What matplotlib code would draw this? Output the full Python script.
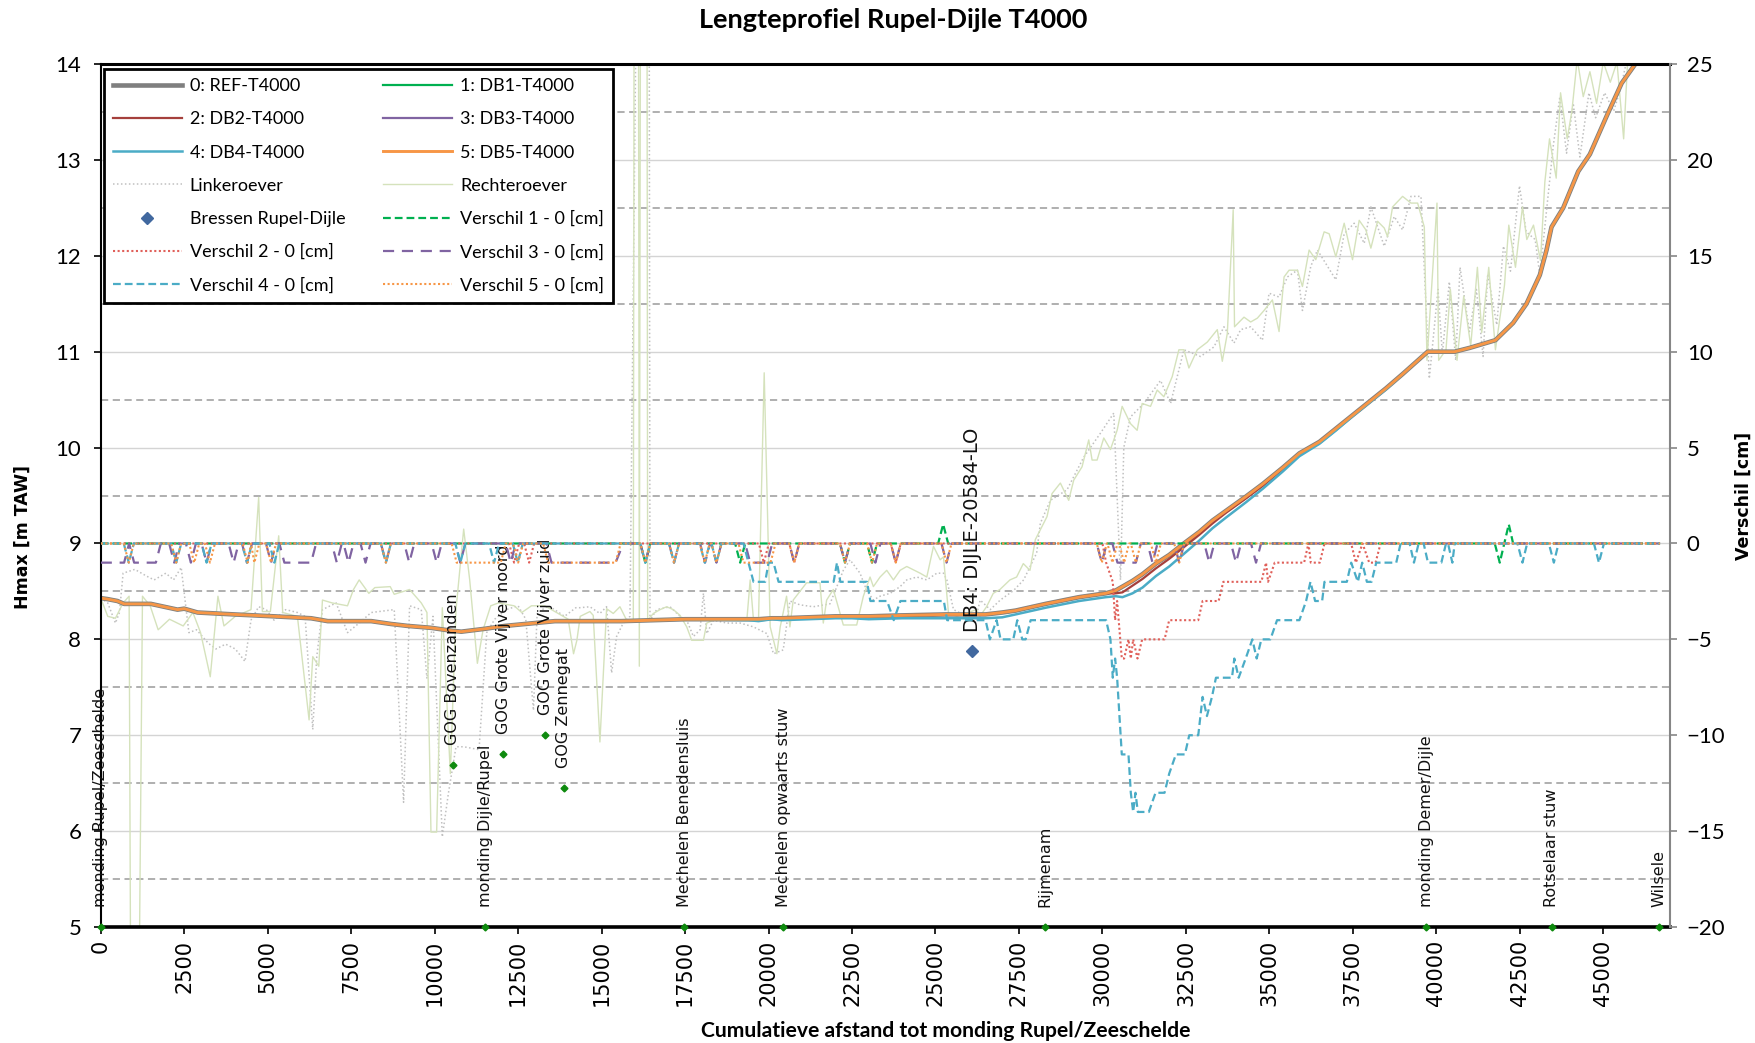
import numpy as np
import matplotlib
matplotlib.use('Agg')
import matplotlib.pyplot as plt

BASE = 'Lato'

# ---- lengteprofiel (m TAW) ----
x_prof = [0, 200, 500, 700, 1500, 2300, 2500, 2900, 4000, 5200, 6300, 6800, 8100, 8700,
          9200, 9900, 10500, 10800, 11500, 12100, 13000, 13600, 15600, 17500, 19400, 19700,
          20100, 20400, 22000, 22500, 23000, 24000, 25300, 26500, 27000, 27400, 28300, 29300,
          30100, 30400, 30600, 30900, 31200, 31600, 32000, 32400, 32900, 33300, 33700, 34300,
          34800, 35400, 35900, 36500, 37000, 37500, 38000, 38500, 39000, 39740, 40550, 41000,
          41770, 42300, 42700, 43100, 43300, 43450, 43800, 44250, 44600, 45130, 45550, 46000,
          46700]
h_ref = [8.43, 8.42, 8.40, 8.37, 8.37, 8.31, 8.32, 8.28, 8.26, 8.24, 8.22, 8.19, 8.19, 8.16,
         8.14, 8.12, 8.09, 8.08, 8.11, 8.14, 8.17, 8.19, 8.19, 8.21, 8.21, 8.21,
         8.22, 8.22, 8.24, 8.24, 8.24, 8.25, 8.26, 8.26, 8.28, 8.30, 8.37, 8.44,
         8.48, 8.51, 8.55, 8.61, 8.68, 8.79, 8.88, 8.99, 9.12, 9.24, 9.34, 9.49,
         9.62, 9.79, 9.94, 10.06, 10.20, 10.34, 10.48, 10.62, 10.77, 11.00, 11.00, 11.04,
         11.12, 11.30, 11.50, 11.80, 12.06, 12.30, 12.50, 12.88, 13.06, 13.48, 13.80, 14.02,
         14.50]
h_db2 = [8.43, 8.42, 8.40, 8.37, 8.37, 8.31, 8.32, 8.28, 8.26, 8.24, 8.22, 8.19, 8.19, 8.16,
         8.14, 8.12, 8.09, 8.08, 8.11, 8.14, 8.17, 8.19, 8.19, 8.21, 8.21, 8.21,
         8.22, 8.22, 8.24, 8.24, 8.24, 8.25, 8.26, 8.26, 8.28, 8.30, 8.37, 8.44,
         8.48, 8.48, 8.49, 8.56, 8.63, 8.74, 8.84, 8.95, 9.09, 9.21, 9.32, 9.47,
         9.60, 9.78, 9.93, 10.06, 10.20, 10.34, 10.48, 10.62, 10.77, 11.00, 11.00, 11.04,
         11.12, 11.30, 11.50, 11.80, 12.06, 12.30, 12.50, 12.88, 13.06, 13.48, 13.80, 14.02,
         14.50]
h_db4 = [8.43, 8.42, 8.40, 8.37, 8.37, 8.31, 8.32, 8.28, 8.26, 8.24, 8.22, 8.19, 8.19, 8.16,
         8.14, 8.12, 8.09, 8.08, 8.11, 8.14, 8.17, 8.19, 8.19, 8.21, 8.20, 8.19,
         8.21, 8.20, 8.22, 8.22, 8.21, 8.22, 8.22, 8.22, 8.23, 8.26, 8.33, 8.40,
         8.44, 8.45, 8.44, 8.48, 8.54, 8.66, 8.76, 8.88, 9.03, 9.16, 9.27, 9.43,
         9.57, 9.75, 9.91, 10.04, 10.18, 10.33, 10.47, 10.61, 10.77, 11.00, 11.00, 11.04,
         11.12, 11.30, 11.50, 11.80, 12.06, 12.30, 12.50, 12.88, 13.06, 13.48, 13.80, 14.02,
         14.50]

# ---- oevers ----
ro_x = [0, 210, 440, 670, 850, 900, 1140, 1250, 1480, 1720, 2060, 2470, 2760, 2990, 3280,
        3510, 3690, 4030, 4500, 4730, 4840, 5080, 5330, 5450, 5890, 6240, 6350, 6530, 6640,
        6930, 7390, 7570, 7740, 8030, 8210, 8670, 8790, 9250, 9600, 9770, 9890, 10060, 10230,
        10470, 10640, 10870, 11050, 11280, 11450, 11680, 11910, 12380, 12610, 12900, 13300,
        13650, 14000, 14160, 14260, 14360, 14650, 14750, 14950, 15150, 15350, 15550, 15750,
        15950, 16000, 16080, 16130, 16200, 16340, 16380, 16550, 16750, 16950, 17150, 17350,
        17550, 17700, 18050, 18150, 18350, 18950, 19350, 19450, 19550, 19700, 19870, 20050,
        20250, 20350, 20540, 20640, 20740, 21140, 21540, 21640, 21740, 21940, 22240, 22640,
        22840, 23040, 23140, 23340, 23540, 23740, 23940, 24140, 24540, 24740, 24940, 25140,
        25240, 25390, 25640, 26230, 26330, 26530, 26730, 26930, 27230, 27430, 27630, 27830,
        27990, 28340, 28490, 28740, 28990, 29140, 29390, 29590, 29690, 29840, 30040, 30240,
        30440, 30590, 30840, 31040, 31190, 31440, 31640, 31840, 32090, 32290, 32440, 32590,
        32840, 33140, 33440, 33590, 33740, 33916, 33956, 34240, 34440, 34640, 34840, 35090,
        35290, 35440, 35590, 35840, 35990, 36190, 36390, 36640, 36790, 36990, 37240, 37490,
        37690, 37890, 38040, 38240, 38440, 38540, 38690, 38990, 39240, 39440, 39640, 39720,
        40020, 40070, 40290, 40420, 40620, 40820, 41030, 41230, 41360, 41570, 41770, 42040,
        42170, 42370, 42580, 42710, 42910, 43120, 43250, 43390, 43590, 43720, 43920, 44060,
        44220, 44400, 44600, 44800, 45000, 45210, 45410, 45610, 45740, 46220, 46700]
ro_y = [8.43, 8.24, 8.22, 8.38, 8.45, 4.0, 4.0, 8.45, 8.35, 8.10, 8.21, 8.14, 8.28, 8.07, 7.61,
        8.45, 8.14, 8.24, 8.31, 9.48, 8.29, 8.29, 9.08, 8.28, 8.24, 7.16, 7.82, 7.72, 8.41,
        8.38, 8.35, 8.52, 8.62, 8.48, 8.54, 8.55, 8.47, 8.52, 8.38, 8.28, 5.99, 5.99, 8.33,
        6.60, 8.31, 9.15, 8.62, 7.75, 8.10, 8.35, 8.38, 8.35, 8.28, 8.35, 8.35,
        8.28, 8.21, 7.85, 7.99, 8.24, 8.29, 8.25, 6.93, 8.32, 8.27, 8.34, 8.20,
        8.20, 22.0, 22.0, 7.72, 22.0, 22.0, 8.20, 8.27, 8.31, 8.34, 8.31, 8.25,
        8.13, 7.99, 7.99, 8.17, 8.20, 8.20, 8.20, 8.62, 8.20, 8.20, 10.78, 8.13,
        7.85, 8.13, 8.45, 8.13, 8.41, 8.59, 8.59, 8.17, 8.41, 8.52, 8.15, 8.15,
        8.45, 8.65, 8.55, 8.65, 8.72, 8.62, 8.72, 8.76, 8.69, 8.65, 8.97, 8.83,
        8.86, 8.27, 8.24, 8.31, 8.24, 8.34, 8.48, 8.52, 8.62, 8.65, 8.79, 8.72,
        9.04, 9.28, 9.52, 9.63, 9.45, 9.66, 9.80, 10.08, 9.87, 9.87, 10.10, 9.98,
        10.18, 10.43, 10.25, 10.18, 10.46, 10.43, 10.60, 10.53, 10.74, 11.02, 11.02, 10.83,
        11.02, 11.10, 11.23, 10.90, 11.19, 12.48, 11.26, 11.36, 11.31, 11.35, 11.43, 11.54,
        11.21, 11.78, 11.85, 11.85, 11.68, 12.06, 11.96, 12.25, 12.23, 11.99, 12.34, 11.96,
        12.37, 12.27, 12.08, 12.36, 12.29, 12.20, 12.51, 12.62, 12.55, 12.55, 12.30, 10.91,
        12.55, 10.91, 11.02, 11.65, 10.91, 11.58, 11.06, 11.88, 11.20, 11.88, 11.02, 11.69,
        12.32, 11.88, 12.51, 12.17, 12.32, 11.95, 12.77, 13.22, 12.81, 13.70, 13.22, 13.51,
        14.05, 13.66, 13.92, 13.59, 14.02, 13.81, 14.02, 13.22, 14.10, 14.30, 14.50]

lo_x = [0, 210, 440, 560, 670, 1020, 1370, 1600, 1950, 2180, 2410, 2640, 2870, 3220, 3450,
        3740, 4030, 4320, 4500, 4730, 4960, 5190, 5540, 5890, 6120, 6350, 6470, 6640, 7050,
        7390, 7740, 8100, 8790, 9070, 9250, 9600, 9770, 9950, 10230, 10410, 10640, 10870,
        11330, 11560, 11800, 12140, 12500, 12730, 12960, 13070, 13420, 13890, 14230, 14350,
        14650, 14950, 15150, 15300, 15450, 15650, 15850, 16250, 16400, 16450, 16650, 17050,
        17350, 17550, 17750, 17950, 18050, 18150, 18350, 18750, 19150, 19550, 19950, 20150,
        20440, 20640, 20940, 21340, 21840, 22240, 22440, 22740, 22940, 23140, 23340, 23640,
        23940, 24140, 24440, 24740, 25040, 25240, 25340, 25540, 25940, 26240, 26340, 26640,
        26940, 27340, 27640, 28030, 28140, 28440, 28940, 29440, 29940, 30340, 30540, 30640,
        30840, 31240, 31740, 32040, 32440, 32940, 33340, 33640, 33940, 34140, 34440, 34790,
        34990, 35290, 35540, 35840, 35990, 36240, 36440, 36990, 37240, 37540, 37840, 38040,
        38440, 38740, 38990, 39240, 39540, 39790, 40050, 40180, 40390, 40580, 40710, 40990,
        41200, 41400, 41540, 41810, 42010, 42220, 42490, 42690, 42960, 43100, 43300, 43500,
        43700, 43900, 44100, 44300, 44570, 44770, 45040, 45310, 45510, 45710, 46700]
lo_y = [8.43, 8.38, 8.17, 8.28, 8.69, 8.73, 8.66, 8.62, 8.69, 8.62, 8.75, 8.07, 8.10, 7.96, 7.90,
        7.95, 7.90, 7.77, 8.20, 8.34, 8.31, 8.20, 8.31, 8.28, 8.24, 7.06, 7.82, 8.31, 8.38,
        8.07, 8.17, 8.28, 8.31, 6.30, 8.35, 8.31, 7.59, 8.24, 5.94, 6.39, 6.88, 6.88,
        6.85, 8.07, 8.21, 8.31, 8.35, 8.21, 7.26, 8.28, 8.35, 8.24, 8.33, 8.33,
        8.34, 8.27, 8.34, 7.65, 8.03, 8.17, 8.24, 22.0, 22.0, 8.20, 8.31, 8.34,
        8.24, 8.20, 8.03, 8.10, 8.48, 8.06, 8.20, 8.17, 8.17, 8.13, 8.06, 7.85,
        7.89, 8.40, 8.36, 8.34, 8.37, 8.72, 8.83, 8.69, 8.51, 8.41, 8.45, 8.48,
        8.55, 8.62, 8.65, 8.62, 8.69, 8.69, 8.62, 8.31, 8.24, 8.27, 8.41, 8.31,
        8.41, 8.51, 8.62, 8.90, 9.21, 9.45, 9.56, 9.90, 10.15, 10.36, 8.62, 10.00,
        10.32, 10.46, 10.70, 10.46, 11.02, 10.95, 11.05, 11.26, 11.09, 11.23, 11.26, 11.12,
        11.61, 11.57, 11.78, 11.85, 11.43, 11.89, 12.06, 11.75, 12.23, 12.34, 12.13, 12.51,
        12.10, 12.41, 12.27, 12.62, 12.62, 10.72, 11.65, 10.98, 11.73, 10.91, 11.88, 11.21,
        11.65, 10.95, 11.81, 11.28, 12.10, 11.84, 12.73, 12.25, 12.17, 11.80, 12.47, 13.14,
        13.66, 13.07, 13.59, 13.03, 13.70, 13.44, 13.70, 13.51, 13.73, 14.05, 14.40]

# ---- verschillen (cm) ----
v1_x = [0, 16160, 16310, 16460, 19000, 19150, 19300, 22140, 22290, 22440, 22950, 23100, 23250,
        25080, 25230, 25380, 41750, 41900, 42170, 42300, 46700]
v1_y = [0, 0, -1, 0, 0, -1, 0, 0, -1, 0, 0, -1, 0, 0, 1, 0, 0, -1, 1, 0, 0]

v2_x = [0, 12230, 12380, 12530, 12680, 12830, 12980, 19710, 19860, 20010, 20620, 20770, 20920,
        23660, 23810, 23960, 30000, 30110, 30310, 30380, 30440, 30580, 30650, 30780, 30850,
        30920, 31050, 31190, 31860, 32000, 32870, 33000, 33480, 33620, 34760, 34900, 34960,
        35160, 36040, 36170, 36240, 36510, 36650, 37450, 37590, 37790, 37990, 38180, 38330, 46700]
v2_y = [0, 0, -1, 0, 0, -1, 0, 0, -1, 0, 0, -1, 0,
        0, -1, 0, 0, -1, -2, -4, -3, -6, -6, -5, -6,
        -5, -6, -5, -5, -4, -4, -3, -3, -2, -2, -1, -2,
        -1, -1, 0, -1, -1, 0, 0, -1, 0, -1, -1, 0, 0]

v3_x = [0, 700, 850, 1000, 1650, 1800, 2050, 2200, 2350, 2550, 2700, 2850, 3020, 3170, 3320,
        3830, 3980, 4130, 4230, 4380, 4530, 4950, 5100, 5250, 5350, 5500, 6300, 6450, 6920,
        7070, 7220, 7270, 7420, 7570, 7780, 7930, 8080, 8390, 8540, 8690, 9090, 9240, 9390,
        9910, 10060, 10210, 10620, 10770, 10920, 12130, 12280, 12430, 13350, 13500, 15420,
        15650, 16160, 16310, 16460, 17020, 17170, 17320, 17950, 18100, 18250, 18290, 18440,
        18590, 19300, 19450, 19960, 20110, 20620, 20770, 20920, 22140, 22290, 22440, 23050,
        23200, 23350, 23660, 23810, 23960, 25180, 25330, 25480, 29830, 29980, 30130, 30300,
        30450, 31000, 31150, 31350, 31500, 31650, 32150, 32300, 32450, 33050, 33200, 33350,
        33850, 34000, 34150, 34450, 34600, 34750, 46700]
v3_y = [-1, -1, 0, -1, -1, 0, 0, -1, 0, 0, -1, 0, 0, -1, 0,
        0, -1, 0, 0, -1, 0, 0, -1, 0, 0, -1, -1, 0, 0,
        -1, 0, 0, -1, 0, 0, -1, 0, 0, -1, 0, 0, -1, 0,
        0, -1, 0, 0, -1, 0, 0, -1, 0, 0, -1, -1,
        0, 0, -1, 0, 0, -1, 0, 0, -1, 0, 0, -1,
        0, 0, -1, -1, 0, 0, -1, 0, 0, -1, 0, 0,
        -1, 0, 0, -1, 0, 0, -1, 0, 0, -1, 0, 0,
        -1, -1, 0, 0, -1, 0, 0, -1, 0, 0, -1, 0,
        0, -1, 0, 0, -1, 0, 0]

v4_x = [0, 690, 840, 990, 2110, 2260, 2410, 3020, 3170, 3320, 4230, 4380, 4530, 5050, 5200,
        5350, 8390, 8540, 8690, 10620, 10770, 10920, 11630, 11780, 11930, 12340, 12490, 12640,
        16160, 16310, 16460, 17020, 17170, 17320, 17940, 18090, 18240, 18290, 18440, 18590,
        19250, 19400, 19550, 19900, 20000, 20150, 20300, 21950, 22050, 22150, 22950, 23050,
        23550, 23750, 23950, 25250, 25350, 26500, 26630, 26830, 26950, 27330, 27450, 27600,
        27700, 27850, 30110, 30240, 30310, 30380, 30440, 30580, 30780, 30850, 30920, 30990,
        31060, 31390, 31590, 31860, 32000, 32200, 32470, 32600, 32870, 33000, 33130, 33280,
        33400, 33880, 33950, 34080, 34290, 34490, 34620, 34760, 35030, 35230, 35900, 36100,
        36230, 36370, 36580, 36650, 37320, 37450, 37650, 37780, 37920, 38060, 38200, 38800,
        38930, 39200, 39330, 39470, 39620, 39750, 40150, 40290, 40350, 40480, 40550, 42430,
        42580, 42720, 43370, 43520, 43660, 44720, 44870, 45020, 46700]
v4_y = [0, 0, -1, 0, 0, -1, 0, 0, -1, 0, 0, -1, 0, 0, -1,
        0, 0, -1, 0, 0, -1, 0, 0, -1, 0, 0, -1, 0,
        0, -1, 0, 0, -1, 0, 0, -1, 0, 0, -1, 0,
        0, -1, -2, -2, -1, -1, -2, -2, -1, -2, -2, -3,
        -3, -4, -3, -3, -4, -4, -5, -4, -5, -5, -4, -5,
        -5, -4, -4, -5, -7, -6, -7, -11, -11, -13, -14, -13,
        -14, -14, -13, -13, -12, -11, -11, -10, -10, -8, -9, -8,
        -7, -7, -6, -7, -6, -5, -6, -5, -5, -4, -4, -3,
        -2, -3, -3, -2, -2, -1, -2, -1, -2, -2, -1, -1,
        0, 0, -1, 0, 0, -1, -1, 0, 0, -1, 0, 0,
        -1, 0, 0, -1, 0, 0, -1, 0, 0]

v5_x = [0, 690, 840, 990, 2110, 2260, 2410, 2650, 2800, 2950, 3120, 3270, 3420, 4250, 4400,
        4500, 4600, 4750, 4950, 5100, 5250, 8390, 8540, 8690, 10510, 10660, 11980, 12130,
        12350, 12500, 12650, 13250, 13400, 15420, 15570, 16160, 16310, 16460, 17020, 17170,
        17320, 17940, 18090, 18240, 18290, 18440, 18590, 19100, 19250, 20060, 20210, 20620,
        20770, 20920, 22140, 22290, 22440, 22950, 23100, 23250, 23660, 23810, 23960, 25180,
        25330, 25480, 29830, 29980, 30130, 30150, 30300, 30450, 30500, 30650, 30800, 30850,
        31000, 31150, 31450, 31600, 31750, 32150, 32300, 32450, 46700]
v5_y = [0, 0, -1, 0, 0, -1, 0, 0, -1, 0, 0, -1, 0, 0, -1,
        0, -1, 0, 0, -1, 0, 0, -1, 0, 0, -1, -1, 0,
        0, -1, 0, 0, -1, -1, 0, 0, -1, 0, 0, -1,
        0, 0, -1, 0, 0, -1, 0, 0, -1, -1, 0, 0,
        -1, 0, 0, -1, 0, 0, -1, 0, 0, -1, 0, 0,
        -1, 0, 0, -1, 0, 0, -1, 0, 0, -1, 0, 0,
        -1, 0, 0, -1, 0, 0, -1, 0, 0]

# ---- locaties ----
loc_x = [0, 10540, 11510, 12050, 13320, 13860, 17480, 20440, 28290, 39700, 43460, 46680]
loc_y = [5.0, 6.69, 5.0, 6.80, 7.00, 6.45, 5.0, 5.0, 5.0, 5.0, 5.0, 5.0]
loc_names = ['monding Rupel/Zeeschelde', 'GOG Bovenzanden', 'monding Dijle/Rupel',
             'GOG Grote Vijver noord', 'GOG Grote Vijver zuid', 'GOG Zennegat',
             'Mechelen Benedensluis', 'Mechelen opwaarts stuw', 'Rijmenam',
             'monding Demer/Dijle', 'Rotselaar stuw', 'Wilsele']

bres_x = [26100]
bres_y = [7.88]
bres_names = ['DB4: DIJLE-20584-LO']

xticks = list(range(0, 45001, 2500))

fig = plt.figure(figsize=(17.55, 10.43), dpi=100)
ax = fig.add_axes([0.0574, 0.1112, 0.8942, 0.8274])
ax2 = ax.twinx()

ax.set_xlim(0, 47000)
ax.set_ylim(5, 14)
ax2.set_ylim(-20, 25)

# rasterlijnen
for v in range(5, 15):
    ax.axhline(v, color='#d4d4d4', lw=1.0, zorder=0)
for v in np.arange(5.5, 14, 1.0):
    ax.axhline(v, color='#a9a9a9', lw=1.3, ls=(0, (4, 2.5)), zorder=0)

lo, = ax.plot(lo_x, lo_y, color='#c0c0c0', lw=1.1, ls=(0, (1, 1.6)), label='Linkeroever', zorder=1)
ro, = ax.plot(ro_x, ro_y, color='#d5e2bc', lw=1.0, label='Rechteroever', zorder=1)

l0, = ax.plot(x_prof, h_ref, color='#7f7f7f', lw=3.3, label='0: REF-T4000', zorder=2)
l1, = ax.plot(x_prof, h_ref, color='#00b050', lw=1.6, label='1: DB1-T4000', zorder=2)
l2, = ax.plot(x_prof, h_db2, color='#a5403c', lw=1.6, label='2: DB2-T4000', zorder=2)
l3, = ax.plot(x_prof, h_ref, color='#8064a2', lw=1.6, label='3: DB3-T4000', zorder=2)
l4, = ax.plot(x_prof, h_db4, color='#4bacc6', lw=1.8, label='4: DB4-T4000', zorder=2)
l5, = ax.plot(x_prof, h_ref, color='#f79646', lw=2.1, label='5: DB5-T4000', zorder=2)

ax.plot(loc_x, loc_y, ls='none', marker='D', ms=3.5, color='#0e8a0e', zorder=4, clip_on=False)
for x, y, t in zip(loc_x, loc_y, loc_names):
    ax.annotate(t, (x, y), xytext=(0, 14.5), textcoords='offset points', rotation=90,
                ha='center', va='bottom', fontsize=11.5, family='DejaVu Sans', color='#111111')

bres, = ax.plot(bres_x, bres_y, ls='none', marker='D', ms=6, color='#41689f',
                label='Bressen Rupel-Dijle', zorder=4)
for x, y, t in zip(bres_x, bres_y, bres_names):
    ax.annotate(t, (x, y), xytext=(0, 13.5), textcoords='offset points', rotation=90,
                ha='center', va='bottom', fontsize=14, family='DejaVu Sans', color='#111111')

d1, = ax2.plot(v1_x, v1_y, color='#00b050', lw=1.6, ls=(0, (3.5, 1.8)), label='Verschil 1 - 0 [cm]')
d2, = ax2.plot(v2_x, v2_y, color='#e0605a', lw=1.5, ls=(0, (1, 1.2)), label='Verschil 2 - 0 [cm]')
d3, = ax2.plot(v3_x, v3_y, color='#8064a2', lw=1.6, ls=(0, (5, 3.5)), label='Verschil 3 - 0 [cm]')
d4, = ax2.plot(v4_x, v4_y, color='#4bacc6', lw=1.6, ls=(0, (3.5, 1.8)), label='Verschil 4 - 0 [cm]')
d5, = ax2.plot(v5_x, v5_y, color='#f79646', lw=1.5, ls=(0, (1, 1.2)), label='Verschil 5 - 0 [cm]')

# assen en ticks
ax.set_xticks(xticks)
ax.set_xticklabels([str(t) for t in xticks], rotation=90, family='DejaVu Sans', fontsize=15)
ax.set_yticks(range(5, 15))
ax.tick_params(axis='x', direction='out', length=5, width=1.2, pad=4)
ax.tick_params(axis='y', direction='out', length=5, width=1.2, pad=9, labelsize=16)
ax2.set_yticks(range(-20, 26, 5))
ax2.tick_params(axis='y', direction='out', length=5, width=1.2, color='#868686', pad=7,
                labelsize=16)
for lab in ax.get_yticklabels() + ax2.get_yticklabels():
    lab.set_family(BASE)

ax.spines['top'].set_linewidth(2.2)
ax.spines['bottom'].set_linewidth(2.6)
ax.spines['left'].set_linewidth(1.5)
ax.spines['right'].set_visible(False)
for s in ['top', 'bottom', 'left']:
    ax2.spines[s].set_visible(False)
ax2.spines['right'].set_color('#868686')
ax2.spines['right'].set_linewidth(1.5)

fig.text(0.509, 0.981, 'Lengteprofiel Rupel-Dijle T4000', ha='center', va='center',
         fontsize=19.5, fontweight='bold', family=BASE)
fig.text(0.539, 0.0115, 'Cumulatieve afstand tot monding Rupel/Zeeschelde', ha='center',
         va='center', fontsize=15.2, fontweight='bold', family=BASE)
fig.text(0.0128, 0.485, 'Hmax [m TAW]', rotation=90, ha='center', va='center',
         fontsize=12.5, fontweight='bold', family='DejaVu Sans')
fig.text(0.9937, 0.5245, 'Verschil [cm]', rotation=90, ha='center', va='center',
         fontsize=12.5, fontweight='bold', family='DejaVu Sans')

# legenda: rijgewijs zoals in Excel
handles = [l0, l2, l4, lo, bres, d2, d4,
           l1, l3, l5, ro, d1, d3, d5]
leg = ax2.legend(handles=handles, labels=[h.get_label() for h in handles], ncol=2,
                 loc='upper left', bbox_to_anchor=(0.002, 0.994), borderaxespad=0,
                 prop={'family': BASE, 'size': 13},
                 handlelength=3.8, handletextpad=0.45, columnspacing=2.1, labelspacing=0.95,
                 borderpad=0.5, fancybox=False, framealpha=1, edgecolor='black')
leg.get_frame().set_linewidth(2.0)

fig.savefig('out.png', dpi=100)
